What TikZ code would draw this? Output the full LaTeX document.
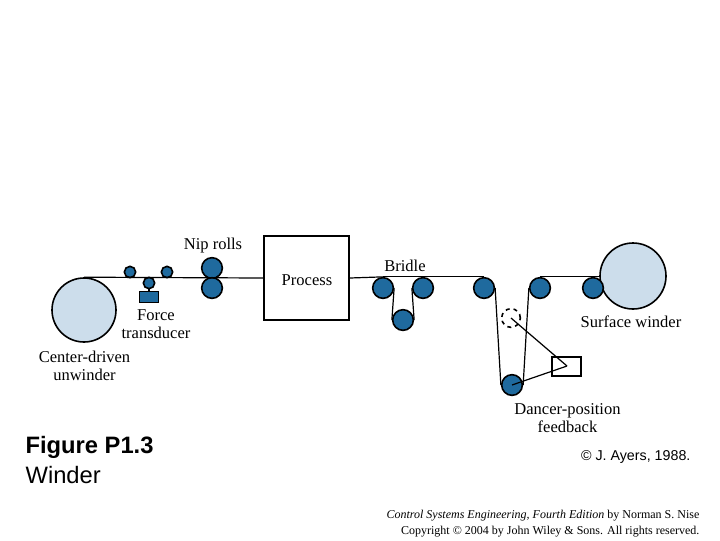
\documentclass[tikz,border=0pt]{standalone}
\usepackage{fontspec}
\setmainfont{Liberation Serif}
\newfontfamily\arialfont{Liberation Sans}
\usetikzlibrary{positioning}
\definecolor{rollblue}{HTML}{1F6A9E}
\definecolor{reelblue}{HTML}{CCDDEB}
\begin{document}
\begin{tikzpicture}[
x=0.75pt, y=-0.75pt,
line width=0.9pt,
roller/.style={draw, circle, fill=rollblue, inner sep=0pt, minimum size=15.5pt, line width=1.2pt},
smallroller/.style={roller, minimum size=8.5pt},
reel/.style={draw, circle, fill=reelblue, inner sep=0pt, line width=1.2pt},
label/.style={align=center, font=\fontsize{12.4}{13.5}\selectfont, inner sep=0pt},
credit/.style={font=\arialfont\fontsize{10.7}{12}\selectfont, inner sep=0pt},
footer/.style={align=right, font=\fontsize{9}{12}\selectfont, inner sep=0pt}
]
\useasboundingbox (0,0) rectangle (720,540);

\node[reel, minimum size=48pt] (unwinder) at (84,310) {};
\node[reel, minimum size=49.5pt] (winder) at (633,276) {};
\node[draw, line width=1.2pt, minimum width=63.75pt, minimum height=63pt, inner sep=0pt] (process) at (306.5,278) {};
\node[label] (processtext) at (307,280) {Process};

\node[smallroller] (guide1) at (130,272) {};
\node[smallroller] (guide2) at (167,272) {};
\node[smallroller] (sense) at (149,283) {};
\node[draw, line width=1.2pt, fill=rollblue, minimum width=14.5pt, minimum height=8pt, inner sep=0pt] (transducer) at (149,297) {};

\node[roller] (nip1) at (212,268) {};
\node[roller] (nip2) at (212,288) {};

\node[roller] (bridle1) at (383,288) {};
\node[roller] (bridle2) at (423,288) {};
\node[roller] (bridle3) at (403,320) {};
\node[roller] (idler1) at (484,288) {};
\node[roller] (idler2) at (540,288) {};
\node[roller] (idler3) at (593,288) {};
\node[roller] (dancer) at (512,385) {};
\node[draw, dashed, circle, fill=white, line width=1.2pt, inner sep=0pt, minimum size=14pt] (dancerold) at (511,318) {};
\node[draw, line width=1.2pt, fill=white, minimum width=21.75pt, minimum height=14.25pt, inner sep=0pt] (sensor) at (566.5,366.5) {};
\coordinate (tip) at (567,366);

\draw (unwinder.north) -- (process.west);
\draw (process.east) -- (bridle1.north);
\draw (bridle1.north) -- (bridle2.north) -- (idler1.north);
\draw (bridle1.east) -- (bridle3.west);
\draw (bridle2.west) -- (bridle3.east);
\draw (idler1.east) -- (dancer.west);
\draw (idler2.west) -- (dancer.east);
\draw (idler2.north) -- (idler3.north) -- (winder.west |- idler3.north);
\draw (sense) -- (transducer);
\draw (dancerold.center) -- (tip);
\draw (dancer.center) -- (tip);

\node[label] (niplabel) at (213,246) {Nip rolls};
\node[label] (forcelabel) at (156,324.5) {Force\\transducer};
\node[label] (unwinderlabel) at (84.5,365.5) {Center-driven\\unwinder};
\node[label] (bridlelabel) at (405,266) {Bridle};
\node[label] (winderlabel) at (631,322) {Surface winder};
\node[label] (dancerlabel) at (567.5,418) {Dancer-position\\feedback};

\node[font=\arialfont\bfseries\fontsize{17.8}{20}\selectfont, inner sep=0pt, anchor=west] (figlabel) at (25,447) {Figure P1.3};
\node[font=\arialfont\fontsize{17.8}{20}\selectfont, inner sep=0pt, anchor=west] (figname) at (25,475) {Winder};
\node[credit, anchor=east] (source) at (691,457) {© J. Ayers, 1988.};
\node[footer, anchor=east] (copyright) at (700,523.5) {\textit{Control Systems Engineering, Fourth Edition} by Norman S. Nise\\Copyright © 2004 by John Wiley \& Sons. All rights reserved.};
\end{tikzpicture}
\end{document}
